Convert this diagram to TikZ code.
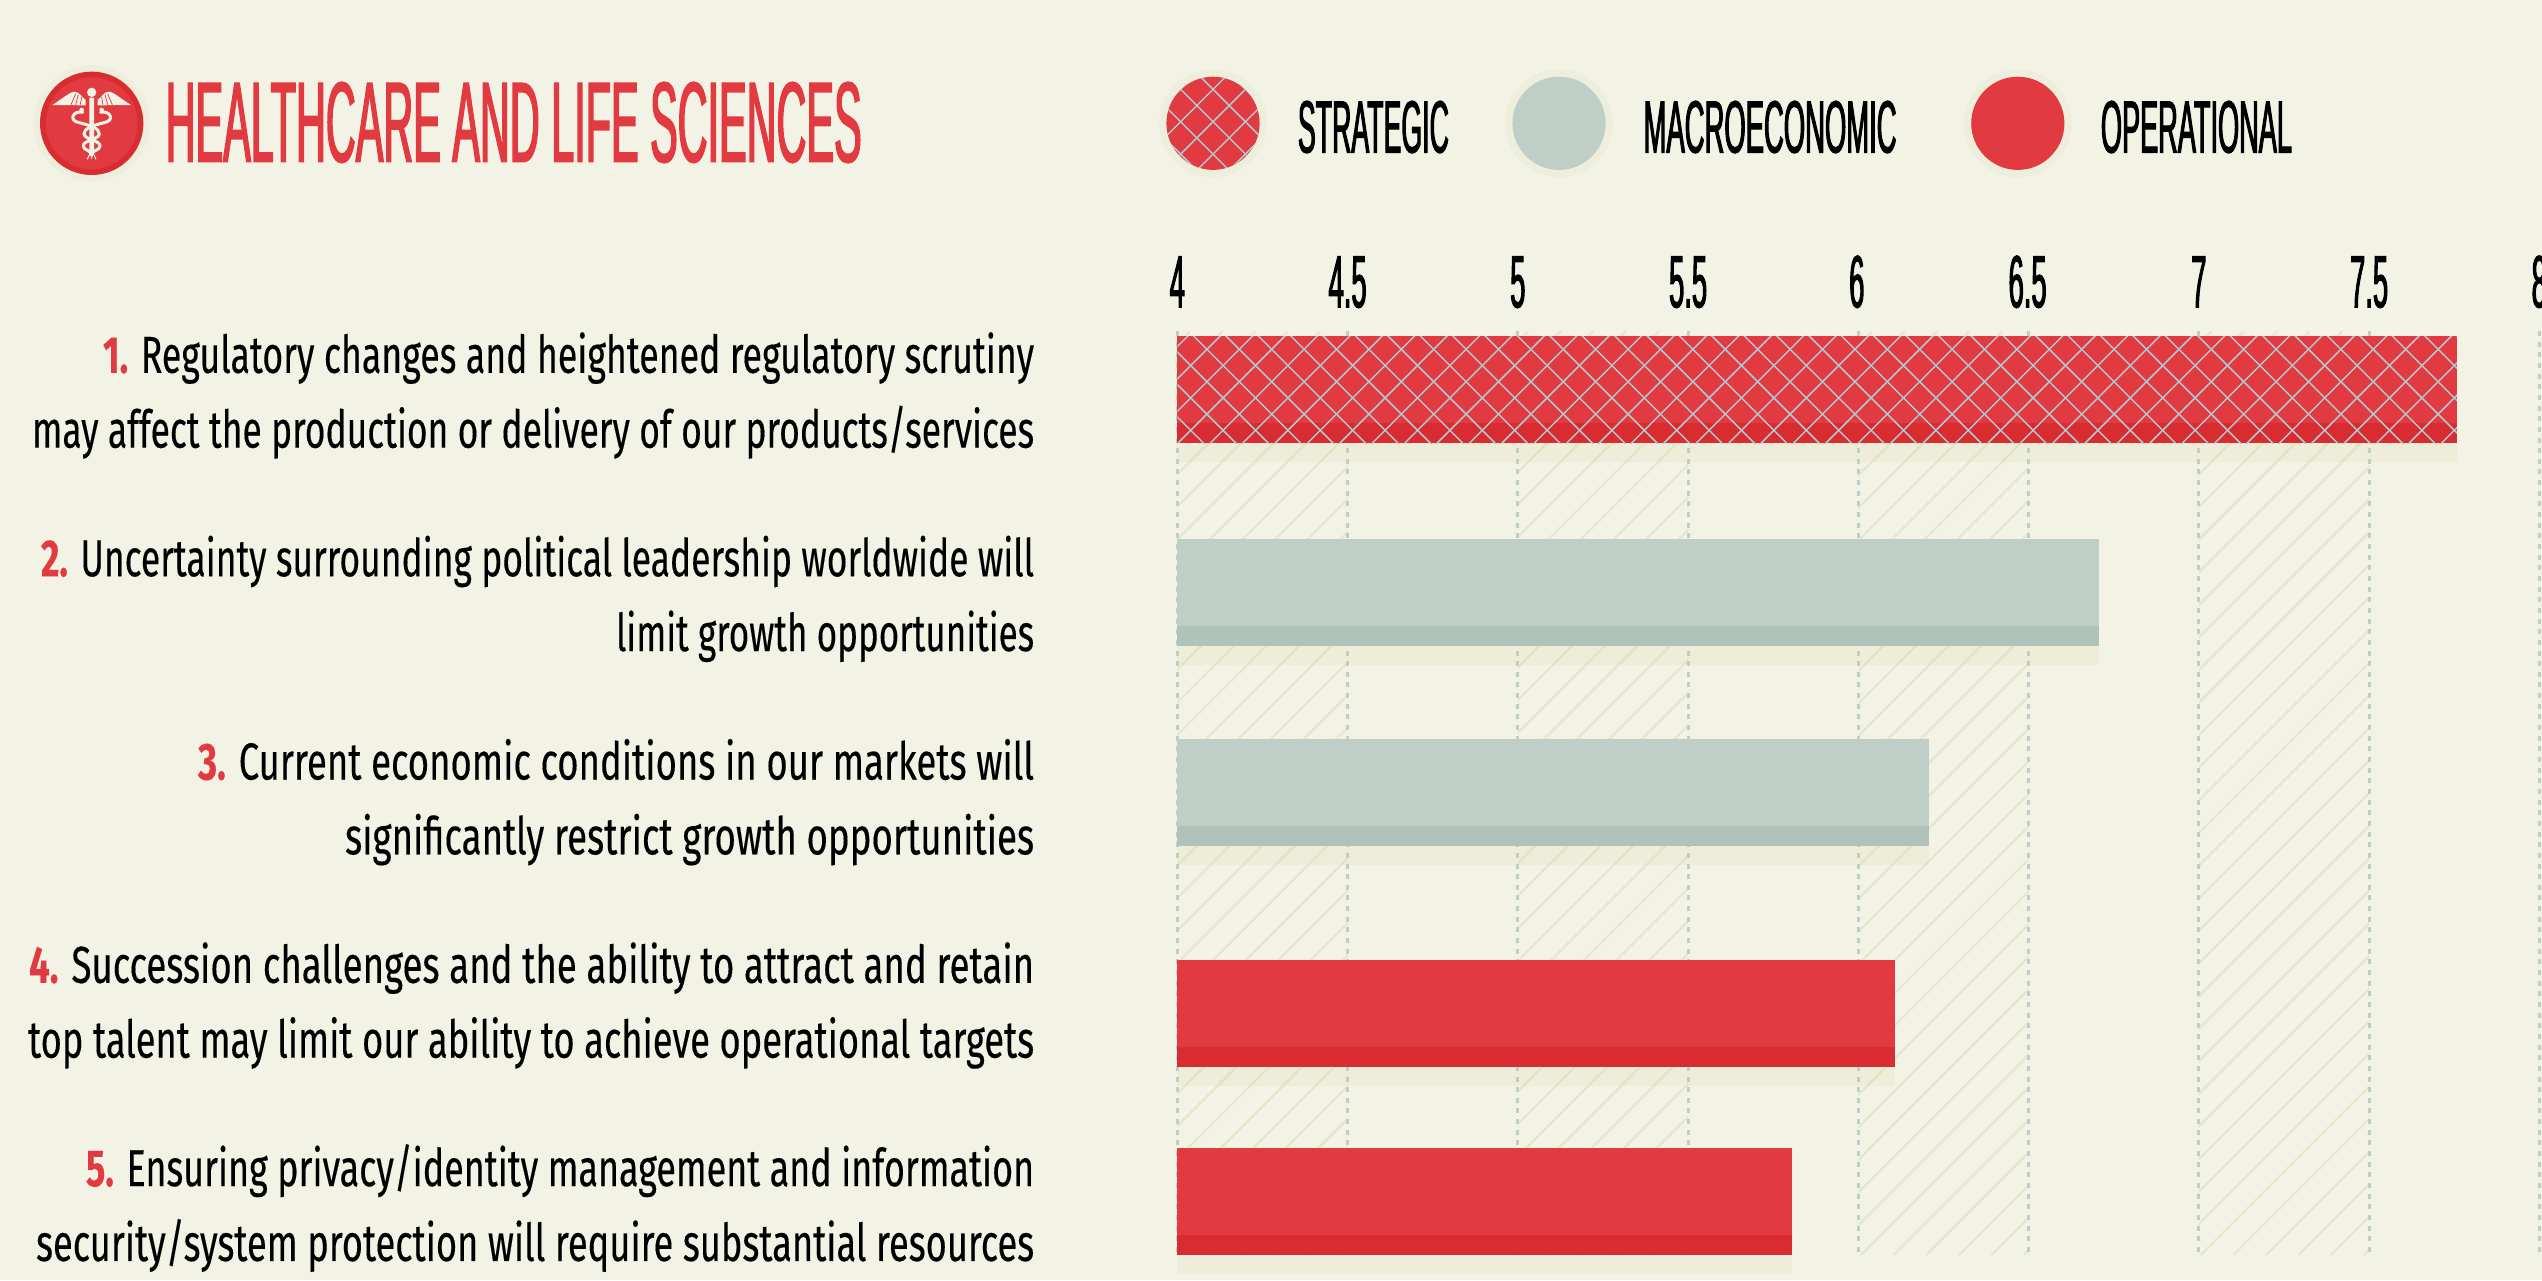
\documentclass[tikz,border=0pt]{standalone}
\usepackage{fontspec}
\usepackage{graphicx}
\setmainfont{Fira Sans}
\newfontfamily\headfont{Liberation Sans}[FakeStretch=0.37,FakeBold=1.35]
\newfontfamily\bodyfont{Fira Sans}[FakeBold=0.35]
\definecolor{bgc}{HTML}{F3F3E5}
\definecolor{halo}{HTML}{EEEEDD}
\definecolor{redm}{HTML}{E13A40}
\definecolor{redd}{HTML}{D92C30}
\definecolor{grym}{HTML}{BFCFC7}
\definecolor{grydk}{HTML}{B0C3BB}
\definecolor{hatchc}{HTML}{E5E7CC}
\definecolor{shadowc}{RGB}{201,200,137}
\definecolor{latc}{HTML}{B0C8CE}
\newcommand{\fitw}[2]{\resizebox{#1pt}{\height}{#2}}
\newcommand{\numr}[1]{{\bfseries\color{redm}#1}}
\newcommand{\hatchband}[3]{%
  \begin{scope}
    \clip (#1,331) rectangle (#2,1255);
    \foreach \n in {-45,...,45}
      \draw[hatchline] ({#3+\n*32.6-331},331) -- ({#3+\n*32.6-1255},1255);
  \end{scope}}
\newcommand{\bodyline}[4]{\node[bodytxt] (#1) at (1034.3,#2) {\fitw{#3}{#4}};}
\newcommand{\databar}[7]{%
  \fill[shadowc,opacity=.12] (1177.3,#2) rectangle (#3,#2+19);
  \fill[#6] (1177.3,#1) rectangle (#3,#2);
  \fill[#5] (1177.3,#1) rectangle (#3,#4);
  \coordinate (#7) at (#3,#1);}
\tikzset{
  hatchline/.style={hatchc,line width=2.2pt},
  gridline/.style={grym,line width=3pt,dash pattern=on 5pt off 5.65pt},
  latline/.style={latc,line width=1.5pt},
  bodytxt/.style={anchor=base east,inner sep=0pt,text=black,font=\bodyfont\fontsize{52}{60}\selectfont},
  headtxt/.style={anchor=base west,inner sep=0pt,text=redm,font=\headfont\fontsize{114}{120}\selectfont},
  legtxt/.style={anchor=base west,inner sep=0pt,text=black,font=\headfont\fontsize{74}{80}\selectfont},
  axtxt/.style={anchor=base,inner sep=0pt,text=black,font=\headfont\fontsize{74}{80}\selectfont},
}
\begin{document}
\begin{tikzpicture}[x=1pt,y=-1pt]
\useasboundingbox (0,0) rectangle (2542,1280);
\fill[bgc] (0,0) rectangle (2542,1280);

% icon
\fill[halo] (91.7,123.3) circle[radius=58];
\fill[redd] (91.7,123.3) circle[radius=51.7];
\fill[redm] (91.7,123.3) circle[radius=46];
\begin{scope}[shift={(20,60)},x=0.33333pt,y=-0.33333pt]
  \foreach \s in {1,-1}{
    \begin{scope}[shift={(215,0)},xscale=\s]
      \fill[bgc] (-118,135) .. controls (-90,118) and (-65,95) .. (-52,95)
        .. controls (-35,95) and (-28,115) .. (-18,119) -- (-18,136) -- cycle;
      \draw[redm,line width=.7pt] (-62,134) -- (-48,102) (-48,134) -- (-40,104) (-34,134) -- (-30,110);
      \draw[bgc,line width=3pt,line cap=round] (-27,157)
        .. controls (-55,150) and (-72,182) .. (-37,188)
        .. controls (-5,196) and (24,205) .. (23,222)
        .. controls (20,240) and (-25,240) .. (-25,258)
        .. controls (-25,272) and (0,270) .. (0,285);
      \fill[bgc] (-30,150) circle[radius=7];
      \draw[bgc,line width=1pt] (-4,278) -- (-13,298);
    \end{scope}}
  \fill[bgc] (208,113) -- (222,113) -- (222,270) -- (215,298) -- (208,270) -- cycle;
  \fill[bgc] (215,97) circle[radius=14];
\end{scope}
\node[headtxt] (title) at (165.5,161.7) {\fitw{696}{HEALTHCARE AND LIFE SCIENCES}};

% legend
\fill[halo] (1213,123.3) circle[radius=54];
\fill[redm] (1213,123.3) circle[radius=46.6];
\begin{scope}
  \clip (1213,123.3) circle[radius=46.6];
  \foreach \n in {-3,...,3}{
    \draw[latline] ({1334.7+\n*32.4-60},60) -- ({1334.7+\n*32.4-190},190);
    \draw[latline] ({1091.3+\n*32.4+60},60) -- ({1091.3+\n*32.4+190},190);
  }
\end{scope}
\node[legtxt] (legA) at (1297.7,152.5) {\fitw{151}{STRATEGIC}};
\fill[halo] (1559,123.3) circle[radius=54];
\fill[grym] (1559,123.3) circle[radius=46.6];
\node[legtxt] (legB) at (1643.4,152.5) {\fitw{253}{MACROECONOMIC}};
\fill[halo] (2017.8,123.3) circle[radius=54];
\fill[redm] (2017.8,123.3) circle[radius=46.6];
\node[legtxt] (legC) at (2100.7,152.5) {\fitw{191}{OPERATIONAL}};

% axis labels
\node[axtxt] (ax40) at (1177.3,307.3) {4};
\node[axtxt] (ax45) at (1347.6,307.3) {4.5};
\node[axtxt] (ax50) at (1517.8,307.3) {5};
\node[axtxt] (ax55) at (1688.1,307.3) {5.5};
\node[axtxt] (ax60) at (1856.8,307.3) {6};
\node[axtxt] (ax65) at (2027.6,307.3) {6.5};
\node[axtxt] (ax70) at (2198.8,307.3) {7};
\node[axtxt] (ax75) at (2369.1,307.3) {7.5};
\node[axtxt] (ax80) at (2539.3,307.3) {8};

% hatch bands
\hatchband{1177.3}{1347.6}{1749.3}
\hatchband{1517.8}{1688.1}{2087.6}
\hatchband{1858.3}{2028.6}{2985.6}
\hatchband{2198.8}{2369.1}{2673.3}

% grid
\foreach \gx in {1177.3,1347.6,1517.8,1688.1,1858.3,2028.6,2198.8,2369.1,2539.3}
  \draw[gridline] (\gx,331) -- (\gx,1255);

% bars
\databar{336}{443}{2457}{423}{redm}{redd}{barA}
\begin{scope}
  \clip (1177.3,336) rectangle (2457,443);
  \foreach \n in {-42,...,8}{
    \draw[latline] ({2755+\n*32.4-330},330) -- ({2755+\n*32.4-450},450);
    \draw[latline] ({1991.6+\n*32.4+330},330) -- ({1991.6+\n*32.4+450},450);
  }
\end{scope}
\databar{539}{646}{2099}{626}{grym}{grydk}{barB}
\databar{739}{846}{1929}{826}{grym}{grydk}{barC}
\databar{960}{1066.7}{1894.6}{1046.7}{redm}{redd}{barD}
\databar{1148}{1254.7}{1791.5}{1234.7}{redm}{redd}{barE}

% text
\bodyline{t1a}{372.8}{931}{\numr{1.} Regulatory changes and heightened regulatory scrutiny}
\bodyline{t1b}{447.6}{1002}{may affect the production or delivery of our products/services}
\bodyline{t2a}{576.2}{993}{\numr{2.} Uncertainty surrounding political leadership worldwide will}
\bodyline{t2b}{651}{418}{limit growth opportunities}
\bodyline{t3a}{779.5}{836}{\numr{3.} Current economic conditions in our markets will}
\bodyline{t3b}{854.3}{689}{significantly restrict growth opportunities}
\bodyline{t4a}{982.8}{1005}{\numr{4.} Succession challenges and the ability to attract and retain}
\bodyline{t4b}{1057.6}{1006}{top talent may limit our ability to achieve operational targets}
\bodyline{t5a}{1186.1}{948}{\numr{5.} Ensuring privacy/identity management and information}
\bodyline{t5b}{1260.9}{998}{security/system protection will require substantial resources}
\end{tikzpicture}
\end{document}
